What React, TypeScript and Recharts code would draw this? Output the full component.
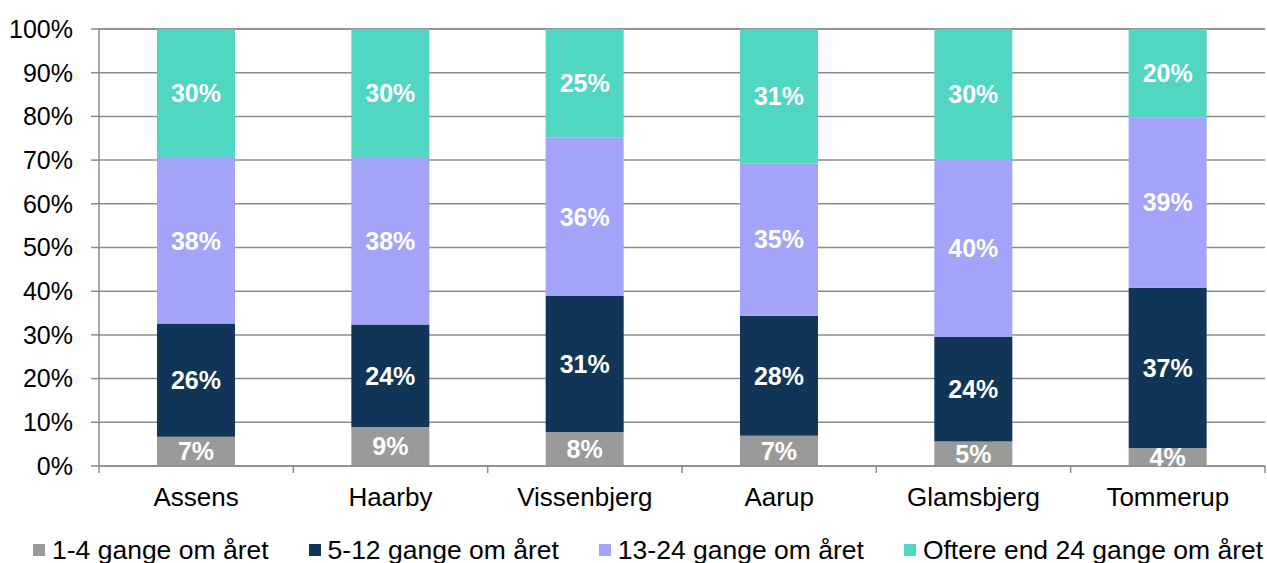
import { BarChart, Bar, XAxis, YAxis, CartesianGrid, Legend, LabelList } from "recharts";

const categories = ["Assens", "Haarby", "Vissenbjerg", "Aarup", "Glamsbjerg", "Tommerup"];
const seriesNames = [
  "1-4 gange om året",
  "5-12 gange om året",
  "13-24 gange om året",
  "Oftere end 24 gange om året",
];

// segment sizes (percent of total)
const low = [6.7, 8.9, 7.8, 6.9, 5.6, 4.1];
const mid = [25.9, 23.5, 31.1, 27.5, 23.9, 36.7];
const high = [37.9, 38.3, 36.3, 34.9, 40.6, 39.0];
const top = [29.5, 29.3, 24.8, 30.7, 29.9, 20.2];

// printed data labels
const lowLabels = ["7%", "9%", "8%", "7%", "5%", "4%"];
const midLabels = ["26%", "24%", "31%", "28%", "24%", "37%"];
const highLabels = ["38%", "38%", "36%", "35%", "40%", "39%"];
const topLabels = ["30%", "30%", "25%", "31%", "30%", "20%"];

const yTicks = [0, 10, 20, 30, 40, 50, 60, 70, 80, 90, 100];

const colors = ["#9a9a9a", "#113556", "#a3a3fa", "#50d6c1"];
const font = '"Liberation Sans", Arial, sans-serif';

const data = categories.map((name, i) => ({
  name,
  low: low[i],
  mid: mid[i],
  high: high[i],
  top: top[i],
  lowL: lowLabels[i],
  midL: midLabels[i],
  highL: highLabels[i],
  topL: topLabels[i],
}));

const XTick = (props: any) => {
  const { x, y, payload, index } = props;
  const half = payload?.offset || 97;
  return (
    <g>
      <line x1={x - half} x2={x - half} y1={y - 7} y2={y} stroke="#8c8c8c" strokeWidth={1.5} />
      {index === categories.length - 1 && (
        <line x1={x + half} x2={x + half} y1={y - 7} y2={y} stroke="#8c8c8c" strokeWidth={1.5} />
      )}
      <text x={x} y={y + 33} textAnchor="middle" fill="#000" fontSize={26} fontFamily={font}>
        {payload.value}
      </text>
    </g>
  );
};

const LegendBox = () => (
  <div
    style={{
      height: 30,
      display: "flex",
      alignItems: "center",
      paddingLeft: 33,
      paddingTop: 4,
      boxSizing: "border-box",
      fontFamily: font,
      fontSize: 26.5,
      color: "#000",
      whiteSpace: "nowrap",
    }}
  >
    {seriesNames.map((s, i) => (
      <div key={s} style={{ display: "flex", alignItems: "center", marginRight: 40 }}>
        <span style={{ width: 12, height: 12, background: colors[i], marginRight: 7, display: "inline-block" }} />
        <span style={{ lineHeight: "30px" }}>{s}</span>
      </div>
    ))}
  </div>
);

const labelStyle = { fill: "#fff", fontSize: 25, fontWeight: 700, fontFamily: font };

export default function App() {
  return (
    <div style={{ position: "absolute", left: 0, top: 0 }}>
      <BarChart
        width={1267}
        height={563}
        data={data}
        margin={{ top: 29, right: 2, bottom: 0, left: 0 }}
        barSize={78}
      >
        <CartesianGrid vertical={false} stroke="#8c8c8c" strokeWidth={1.5} />
        <XAxis
          dataKey="name"
          height={67}
          tickSize={7}
          tickMargin={0}
          tickLine={false}
          axisLine={{ stroke: "#8c8c8c", strokeWidth: 1.5 }}
          tick={<XTick />}
          interval={0}
        />
        <YAxis
          width={99}
          domain={[0, 100]}
          ticks={yTicks}
          tickFormatter={(v) => `${v}%`}
          tickSize={8}
          tickMargin={18}
          tick={{ fill: "#000", fontSize: 25, fontFamily: font }}
          tickLine={{ stroke: "#8c8c8c", strokeWidth: 1.5 }}
          axisLine={{ stroke: "#8c8c8c", strokeWidth: 1.5 }}
        />
        <Legend
          verticalAlign="bottom"
          content={<LegendBox />}
          wrapperStyle={{ left: 0, width: 1267 }}
        />
        <Bar dataKey="low" name={seriesNames[0]} stackId="a" fill={colors[0]} isAnimationActive={false}>
          <LabelList dataKey="lowL" position="center" style={labelStyle} />
        </Bar>
        <Bar dataKey="mid" name={seriesNames[1]} stackId="a" fill={colors[1]} isAnimationActive={false}>
          <LabelList dataKey="midL" position="center" style={labelStyle} />
        </Bar>
        <Bar dataKey="high" name={seriesNames[2]} stackId="a" fill={colors[2]} isAnimationActive={false}>
          <LabelList dataKey="highL" position="center" style={labelStyle} />
        </Bar>
        <Bar dataKey="top" name={seriesNames[3]} stackId="a" fill={colors[3]} isAnimationActive={false}>
          <LabelList dataKey="topL" position="center" style={labelStyle} />
        </Bar>
      </BarChart>
    </div>
  );
}
